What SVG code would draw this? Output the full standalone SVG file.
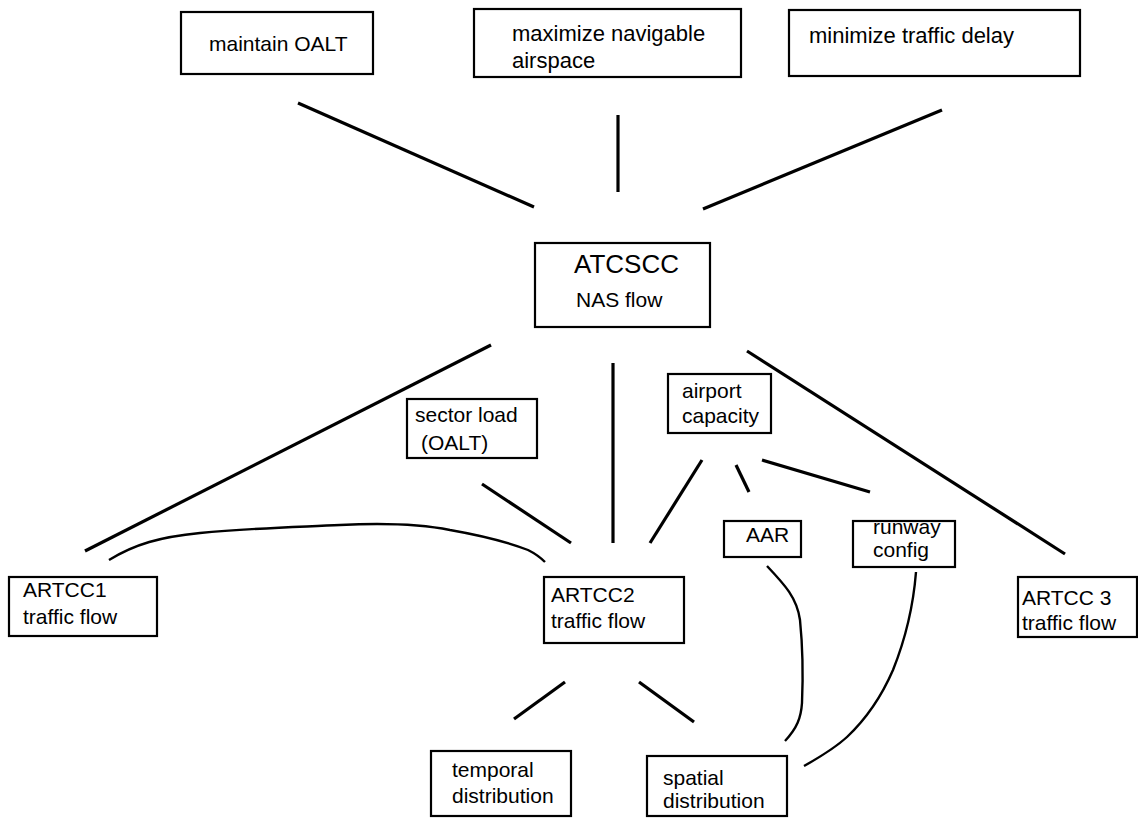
<svg xmlns="http://www.w3.org/2000/svg" width="1138" height="818" viewBox="0 0 1138 818">
<style>
.box{fill:#fff;stroke:#000;stroke-width:2.2}
.t{font-family:"Liberation Sans",Arial,Helvetica,sans-serif;font-size:21px;fill:#000}
.m{font-size:22px}
.big{font-size:26px}
.ln{stroke:#000;stroke-width:3.2;fill:none;stroke-linecap:butt}
.cv{stroke:#000;stroke-width:2.4;fill:none}
</style>
<defs>
<clipPath id="rwclip"><rect x="853" y="522" width="102" height="45"/></clipPath>
</defs>
<rect width="1138" height="818" fill="#fff"/>
<g id="connectors">
<line class="ln" x1="298" y1="103" x2="534" y2="207"/>
<line class="ln" x1="618" y1="115" x2="618" y2="192"/>
<line class="ln" x1="942" y1="110" x2="703" y2="209"/>
<line class="ln" x1="491" y1="345" x2="85" y2="551"/>
<line class="ln" x1="613" y1="363" x2="613" y2="543"/>
<line class="ln" x1="747" y1="351" x2="1065" y2="554"/>
<line class="ln" x1="482" y1="484" x2="571" y2="543"/>
<line class="ln" x1="702" y1="460" x2="650" y2="543"/>
<line class="ln" x1="736" y1="465" x2="749" y2="492"/>
<line class="ln" x1="762" y1="460" x2="870" y2="492"/>
<line class="ln" x1="565" y1="682" x2="514" y2="719"/>
<line class="ln" x1="639" y1="682" x2="694" y2="722"/>
<path class="cv" d="M109,560 C135,544 160,537 200,533 C250,528 300,527 340,525 C380,523 420,524 450,530 C490,537 515,545 528,550 C536,554 541,558 545,562"/>
<path class="cv" d="M767,566 C785,585 797,598 800,620 C803,650 803,680 802,703 C801,718 797,728 785,741"/>
<path class="cv" d="M916,572 C913,610 905,640 893,670 C880,700 865,720 847,737 C835,748 820,757 804,766"/>
</g>
<g id="maintain-oalt">
<rect class="box" x="181" y="12" width="192" height="62"/>
<text class="t" x="209" y="51">maintain OALT</text>
</g>
<g id="maximize-airspace">
<rect class="box" x="474" y="9" width="267" height="68"/>
<text class="t m" x="512" y="41">maximize navigable</text>
<text class="t m" x="512" y="68">airspace</text>
</g>
<g id="minimize-delay">
<rect class="box" x="789" y="10" width="291" height="66"/>
<text class="t m" x="809" y="43">minimize traffic delay</text>
</g>
<g id="atcscc">
<rect class="box" x="535" y="243" width="175" height="84"/>
<text class="t big" x="574" y="273">ATCSCC</text>
<text class="t" x="576" y="307">NAS flow</text>
</g>
<g id="sector-load">
<rect class="box" x="407" y="399" width="130" height="59"/>
<text class="t" x="415" y="422">sector load</text>
<text class="t" x="421" y="450">(OALT)</text>
</g>
<g id="airport-capacity">
<rect class="box" x="668" y="374" width="103" height="59"/>
<text class="t" x="682" y="398">airport</text>
<text class="t" x="682" y="423">capacity</text>
</g>
<g id="artcc1">
<rect class="box" x="9" y="577" width="148" height="59"/>
<text class="t" x="23" y="597">ARTCC1</text>
<text class="t" x="23" y="624">traffic flow</text>
</g>
<g id="artcc2">
<rect class="box" x="544" y="577" width="140" height="66"/>
<text class="t" x="551" y="602">ARTCC2</text>
<text class="t" x="551" y="628">traffic flow</text>
</g>
<g id="aar">
<rect class="box" x="724" y="521" width="77" height="36"/>
<text class="t" x="746" y="542">AAR</text>
</g>
<g id="runway-config">
<rect class="box" x="853" y="521" width="102" height="46"/>
<text class="t" x="873" y="534" clip-path="url(#rwclip)">runway</text>
<text class="t" x="873" y="557">config</text>
</g>
<g id="artcc3">
<rect class="box" x="1018" y="577" width="119" height="60"/>
<text class="t" x="1022" y="605">ARTCC 3</text>
<text class="t" x="1022" y="630">traffic flow</text>
</g>
<g id="temporal">
<rect class="box" x="431" y="751" width="140" height="65"/>
<text class="t" x="452" y="777">temporal</text>
<text class="t" x="452" y="803">distribution</text>
</g>
<g id="spatial">
<rect class="box" x="647" y="756" width="140" height="60"/>
<text class="t" x="663" y="785">spatial</text>
<text class="t" x="663" y="808">distribution</text>
</g>
</svg>
